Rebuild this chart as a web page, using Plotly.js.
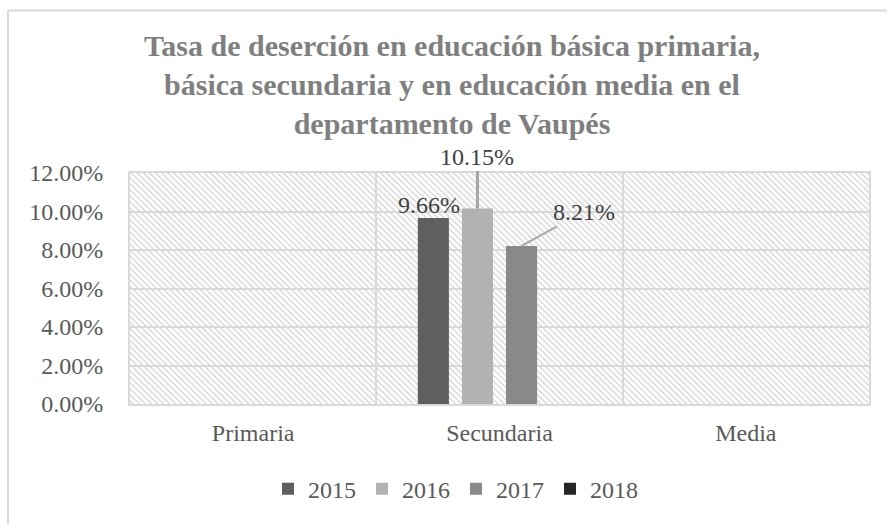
<!DOCTYPE html>
<html>
<head>
<meta charset="utf-8">
<script src="https://cdn.plot.ly/plotly-3.0.1.min.js"></script>
<style>html,body{margin:0;padding:0;background:#fff;}#chart{width:887px;height:524px;}</style>
</head>
<body>
<div id="chart"></div>
<script>
// ---- data ----
const categories = ['Primaria', 'Secundaria', 'Media'];
const years = ['2015', '2016', '2017', '2018'];
const values2015 = [null, 0.0966, null];
const values2016 = [null, 0.1015, null];
const values2017 = [null, 0.0821, null];
const values2018 = [null, null, null];
const yTickVals = [0, 0.02, 0.04, 0.06, 0.08, 0.10, 0.12];
const titleText = 'Tasa de deserción en educación básica primaria,<br>básica secundaria y en educación media en el<br>departamento de Vaupés';

// ---- style ----
const W = 887, H = 524;
const M = {l: 130, r: 18, t: 173, b: 118};
const PW = W - M.l - M.r, PH = H - M.t - M.b;
const colors = ['#5f5f5f', '#b2b2b2', '#898989', '#262626'];
const FONT = 'Liberation Serif';
const bargap = 0.284, bargroupgap = 0.295;
const seriesValues = [values2015, values2016, values2017, values2018];

const traces = years.map((y, i) => ({
  type: 'bar',
  name: y,
  x: categories,
  y: seriesValues[i],
  marker: {color: colors[i], line: {width: 0}},
  hoverinfo: 'skip'
}));

// hatch background as inline SVG
const hatch = '<svg xmlns="http://www.w3.org/2000/svg" width="' + PW + '" height="' + PH + '">' +
  '<defs><pattern id="p" patternUnits="userSpaceOnUse" width="4.3" height="4.3" patternTransform="rotate(-45)">' +
  '<rect width="4.3" height="4.3" fill="#ffffff"/><line x1="1" y1="0" x2="1" y2="4.3" stroke="#d9d9d9" stroke-width="1.5"/></pattern></defs>' +
  '<rect width="100%" height="100%" fill="url(#p)"/></svg>';
const hatchURI = 'data:image/svg+xml;charset=utf-8,' + encodeURIComponent(hatch);

// data labels
const slotPx = (1 - bargap) * (PW / categories.length) / years.length;
const labelStyle = {
  '2015': {ax: -4, ay: -13, arrow: false},
  '2016': {ax: 0, ay: -52, arrow: true, aw: 3},
  '2017': {ax: 62, ay: -34, arrow: true, aw: 2}
};
const annotations = [];
years.forEach((yr, i) => {
  seriesValues[i].forEach((v, j) => {
    if (v === null) return;
    const st = labelStyle[yr];
    const xoff = (i - (years.length - 1) / 2) * slotPx;
    const a = {
      x: categories[j], y: v, xref: 'x', yref: 'y',
      text: (v * 100).toFixed(2) + '%',
      font: {family: FONT, size: 24, color: '#404040'},
      xshift: xoff
    };
    if (st.arrow) {
      Object.assign(a, {showarrow: true, arrowhead: 0, arrowwidth: st.aw, arrowcolor: '#a6a6a6',
        ax: st.ax, ay: st.ay, standoff: 0, startstandoff: 0});
    } else {
      Object.assign(a, {showarrow: false, xshift: xoff + st.ax, yshift: -st.ay});
    }
    annotations.push(a);
  });
});

// outer chart frame (left and top edges)
const px2x = p => (p - M.l) / PW, py2y = p => (H - M.b - p) / PH;
const shapes = [
  {type: 'line', xref: 'paper', yref: 'paper', x0: px2x(8), x1: px2x(8), y0: py2y(9), y1: py2y(H + 5), line: {color: '#d9d9d9', width: 2}},
  {type: 'line', xref: 'paper', yref: 'paper', x0: px2x(8), x1: px2x(W + 5), y0: py2y(9), y1: py2y(9), line: {color: '#d9d9d9', width: 2}}
];

const layout = {
  width: W, height: H,
  margin: M,
  paper_bgcolor: '#ffffff',
  plot_bgcolor: 'rgba(0,0,0,0)',
  barmode: 'group',
  bargap: bargap,
  bargroupgap: bargroupgap,
  title: {
    text: '<b>' + titleText + '</b>',
    font: {family: FONT, size: 30, color: '#7f7f7f'},
    x: 452 / W, xref: 'container', xanchor: 'center',
    y: 1 - 56 / H, yref: 'container', yanchor: 'middle'
  },
  xaxis: {
    type: 'category',
    tickson: 'boundaries',
    showgrid: true, gridcolor: '#d9d9d9', gridwidth: 2,
    showline: true, linecolor: '#d9d9d9', linewidth: 2, mirror: true,
    ticks: '', ticklen: 0,
    ticklabelstandoff: 6,
    tickfont: {family: FONT, size: 24, color: '#595959'},
    fixedrange: true
  },
  yaxis: {
    range: [0, 0.12],
    tickvals: yTickVals,
    tickformat: '.2%',
    showgrid: true, gridcolor: '#d9d9d9', gridwidth: 2,
    showline: true, linecolor: '#d9d9d9', linewidth: 2, mirror: true,
    zeroline: false,
    ticks: '',
    ticklabelstandoff: 20,
    tickfont: {family: FONT, size: 24, color: '#595959'},
    fixedrange: true
  },
  legend: {
    orientation: 'h',
    x: (268 - M.l) / PW, xanchor: 'left',
    y: -86 / PH, yanchor: 'middle',
    font: {family: FONT, size: 24, color: '#595959'},
    entrywidth: 49, entrywidthmode: 'pixels',
    traceorder: 'normal'
  },
  images: [{
    source: hatchURI, xref: 'paper', yref: 'paper', x: 0, y: 1, sizex: 1, sizey: 1,
    xanchor: 'left', yanchor: 'top', sizing: 'stretch', layer: 'below'
  }],
  shapes: shapes,
  annotations: annotations,
  showlegend: true
};

Plotly.newPlot('chart', traces, layout, {displayModeBar: false, staticPlot: true});
</script>
</body>
</html>
